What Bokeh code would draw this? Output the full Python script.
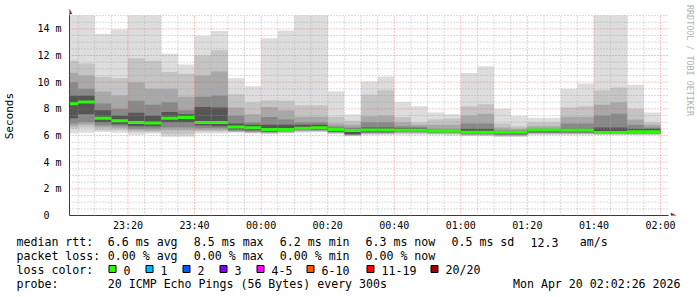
import math
from bokeh.plotting import figure
from bokeh.layouts import column
from bokeh.models import FixedTicker, Label, PolyAnnotation, Range1d, Plot
from bokeh.core.properties import value
from bokeh.embed import file_html
from bokeh.resources import INLINE

# ---------------- data ----------------
view_start = "23:02:26"
view_end = "02:02:26"
bin_end = ["23:05", "23:10", "23:15", "23:20", "23:25", "23:30", "23:35", "23:40", "23:45",
           "23:50", "23:55", "00:00", "00:05", "00:10", "00:15", "00:20", "00:25", "00:30",
           "00:35", "00:40", "00:45", "00:50", "00:55", "01:00", "01:05", "01:10", "01:15",
           "01:20", "01:25", "01:30", "01:35", "01:40", "01:45", "01:50", "01:55", "02:00"]
# smoke bands (ms): outermost (max/min) to innermost
hi1 = [15.9, 15.9, 13.63, 13.95, 15.9, 15.9, 12.13, 11.33, 13.48, 13.83, 10.3, 9.69, 13.3, 13.88, 15.9, 15.9, 9.31, 7.57,
       10.05, 10.43, 8.51, 8.19, 7.72, 7.6, 10.68, 11.2, 8.0, 7.47, 7.34, 7.34, 9.5, 9.9, 15.9, 15.9, 9.8, 7.72]
hi2 = [11.6, 11.4, 10.4, 10.3, 11.8, 11.6, 10.76, 10.63, 12.0, 12.4, 9.1, 8.5, 8.64, 8.6, 8.26, 8.26, 7.4, 7.1,
       9.05, 9.39, 7.39, 7.0, 7.2, 7.27, 8.19, 8.34, 6.9, 6.7, 7.0, 7.0, 8.1, 8.2, 9.39, 9.6, 8.0, 7.0]
hi3 = [10.7, 10.5, 9.3, 9.0, 10.0, 9.5, 9.5, 8.9, 10.5, 10.8, 8.1, 7.6, 8.14, 7.9, 7.4, 7.4, 6.9, 6.8,
       7.45, 7.5, 7.0, 6.8, 6.8, 6.8, 7.5, 7.64, 6.6, 6.5, 6.7, 6.7, 7.4, 7.4, 8.3, 8.5, 7.2, 6.8]
hi4 = [10.0, 9.5, 8.4, 8.0, 8.6, 8.3, 8.5, 7.9, 8.9, 9.0, 7.5, 7.0, 7.39, 7.2, 7.0, 7.0, 6.7, 6.6,
       7.0, 7.0, 6.7, 6.65, 6.5, 6.5, 6.9, 6.9, 6.4, 6.4, 6.5, 6.5, 6.9, 6.9, 7.5, 7.64, 6.8, 6.6]
hi5 = [9.0, 9.0, 7.9, 7.5, 7.7, 7.5, 7.76, 7.6, 8.14, 8.1, 6.9, 6.8, 6.8, 6.8, 6.8, 6.8, 6.55, 6.5,
       6.6, 6.6, 6.55, 6.55, 6.4, 6.4, 6.5, 6.5, 6.3, 6.3, 6.45, 6.45, 6.5, 6.5, 6.6, 6.6, 6.5, 6.5]
median = [8.39, 8.51, 7.30, 7.10, 6.97, 6.93, 7.29, 7.35, 6.98, 6.98, 6.63, 6.58, 6.45, 6.45, 6.55, 6.58, 6.45, 6.37,
          6.41, 6.41, 6.40, 6.40, 6.33, 6.33, 6.24, 6.24, 6.24, 6.24, 6.41, 6.41, 6.39, 6.39, 6.23, 6.23, 6.28, 6.28]
lo5 = [7.3, 7.6, 7.0, 6.85, 6.7, 6.7, 7.0, 7.0, 6.75, 6.7, 6.45, 6.4, 6.3, 6.35, 6.45, 6.45, 6.3, 6.1,
       6.25, 6.25, 6.3, 6.3, 6.25, 6.25, 6.15, 6.15, 6.1, 6.1, 6.25, 6.25, 6.25, 6.25, 6.15, 6.15, 6.2, 6.2]
lo4 = [6.9, 7.0, 6.75, 6.7, 6.5, 6.5, 6.6, 6.6, 6.55, 6.55, 6.35, 6.3, 6.25, 6.3, 6.4, 6.4, 6.25, 6.05,
       6.2, 6.2, 6.25, 6.25, 6.2, 6.2, 6.1, 6.1, 6.05, 6.05, 6.2, 6.2, 6.2, 6.2, 6.12, 6.12, 6.15, 6.15]
lo3 = [6.7, 6.8, 6.6, 6.55, 6.4, 6.35, 6.4, 6.4, 6.4, 6.4, 6.3, 6.25, 6.2, 6.25, 6.35, 6.35, 6.2, 6.02,
       6.15, 6.15, 6.2, 6.2, 6.15, 6.15, 6.05, 6.05, 6.0, 6.0, 6.15, 6.15, 6.15, 6.15, 6.1, 6.1, 6.1, 6.1]
lo2 = [6.5, 6.6, 6.4, 6.4, 6.25, 6.25, 6.1, 6.1, 6.3, 6.3, 6.26, 6.2, 6.15, 6.2, 6.3, 6.3, 6.15, 6.0,
       6.1, 6.1, 6.15, 6.15, 6.1, 6.1, 6.0, 6.0, 5.95, 5.95, 6.1, 6.1, 6.1, 6.1, 6.07, 6.07, 6.07, 6.07]
lo1 = [6.15, 6.2, 6.27, 6.2, 6.05, 6.15, 5.9, 5.9, 6.15, 6.15, 6.2, 6.15, 6.1, 6.15, 6.2, 6.25, 6.1, 5.95,
       6.05, 6.05, 6.05, 6.05, 6.05, 6.0, 5.95, 5.95, 5.89, 5.89, 6.05, 6.05, 6.05, 6.05, 6.05, 6.05, 6.05, 6.05]

x_tick_labels = ["23:20", "23:40", "00:00", "00:20", "00:40", "01:00", "01:20", "01:40", "02:00"]
y_ticks = [0, 2, 4, 6, 8, 10, 12, 14]
y_tick_labels = ["0\u00a0\u00a0", "2 m", "4 m", "6 m", "8 m", "10 m", "12 m", "14 m"]
y_max = 15

rtt_stats = ["6.6", "8.5", "6.2", "6.3", "0.5", "12.3"]   # avg max min now sd am/s
loss_stats = ["0.00", "0.00", "0.00", "0.00"]             # avg max min now
loss_labels = ["0", "1", "2", "3", "4-5", "6-10", "11-19", "20/20"]
loss_colors = ["#26ff00", "#00b8ff", "#0059ff", "#7e00ff", "#ff00ff", "#ff5500", "#ff0000", "#a00000"]
probe_text = "20 ICMP Echo Pings (56 Bytes) every 300s"
stamp_text = "Mon Apr 20 02:02:26 2026"
watermark = "RRDTOOL / TOBI OETIKER"

band_colors = ["#dddddd", "#c4c4c4", "#a8a8a8", "#888888", "#555555"]


def to_min(s):
    parts = [int(v) for v in s.split(":")]
    while len(parts) < 3:
        parts.append(0)
    m = parts[0] * 60 + parts[1] + parts[2] / 60.0 - 23 * 60
    if m < -60:
        m += 1440
    return m


# ---------------- layout constants (canvas px) ----------------
FL, FR_DATA, FR = 67, 668, 697      # frame left, end of time axis, frame right
FT, FB = 3, 215                     # frame top, zero line
W, H_MAIN, H_LEG = 697, 234, 63

x0 = to_min(view_start)
x1 = to_min(view_end)
min_per_px = (x1 - x0) / (FR_DATA - FL)
ms_per_px = y_max / 200.0
x_frame_end = x0 + (FR - FL) * min_per_px
y_frame_end = (FB - FT) * ms_per_px

right = [to_min(t) for t in bin_end]
left = [r - 5 for r in right]

p = figure(width=W, height=H_MAIN, output_backend="svg", toolbar_location=None,
           x_range=Range1d(x0, x_frame_end), y_range=Range1d(0, y_frame_end),
           min_border_left=FL, min_border_right=0, min_border_top=FT, min_border_bottom=H_MAIN - FB,
           background_fill_color="white", border_fill_color="white")
p.outline_line_color = None

his = [hi1, hi2, hi3, hi4, hi5]
los = [lo1, lo2, lo3, lo4, lo5]
for hi, lo, col in zip(his, los, band_colors):
    p.quad(left=left, right=right, top=[min(v, y_max) for v in hi], bottom=lo,
           fill_color=col, line_color=None)

p.segment(x0=left, x1=right, y0=median, y1=median, line_color=loss_colors[0], line_width=3)

# ---------------- axes ----------------
xt = [to_min(t) for t in x_tick_labels]
minor_x = [to_min(t) for t in bin_end if t not in x_tick_labels]
p.xaxis.ticker = FixedTicker(ticks=xt, minor_ticks=minor_x)
p.xaxis.major_label_overrides = {x: l for x, l in zip(xt, x_tick_labels)}
minor_y = [v / 2 for v in range(0, 31) if (v / 2) not in y_ticks]
p.yaxis.ticker = FixedTicker(ticks=y_ticks, minor_ticks=minor_y)
p.yaxis.major_label_overrides = {y: l for y, l in zip(y_ticks, y_tick_labels)}
p.xaxis.bounds = (x0, x1)
p.yaxis.bounds = (0, y_max + 0.1)

for ax in (p.xaxis[0], p.yaxis[0]):
    ax.axis_line_color = "#3a3a3a"
    ax.axis_line_width = 1
    ax.major_tick_in = 0
    ax.major_tick_out = 0
    ax.minor_tick_in = 0
    ax.minor_tick_out = 0
    ax.major_label_text_font = "DejaVu Sans Mono"
    ax.major_label_text_font_size = "10px"
    ax.major_label_text_color = "#000000"
p.xaxis.major_label_standoff = 4
p.yaxis.major_label_standoff = 8
p.yaxis.axis_label = "Seconds\u00a0\u00a0"
p.yaxis.axis_label_text_font = "DejaVu Sans Mono"
p.yaxis.axis_label_text_font_size = "11px"
p.yaxis.axis_label_text_font_style = "normal"
p.yaxis.axis_label_text_color = "#000000"
p.yaxis.axis_label_standoff = 18

# grid: dotted, drawn over the smoke, limited to the data area
MAJ_COL, MAJ_ALPHA = "#e85050", 0.65
MIN_COL, MIN_ALPHA = "#9a9a9a", 0.7
DASH = "1 2"
p.xgrid.visible = False
p.ygrid.visible = False
p.segment(x0=minor_x, x1=minor_x, y0=0, y1=y_max, line_color=MIN_COL, line_alpha=MIN_ALPHA,
          line_dash=DASH, level="overlay")
p.segment(x0=x0, x1=x1, y0=minor_y, y1=minor_y, line_color=MIN_COL, line_alpha=MIN_ALPHA,
          line_dash=DASH, level="overlay")
p.segment(x0=xt, x1=xt, y0=0, y1=y_max, line_color=MAJ_COL, line_alpha=MAJ_ALPHA,
          line_dash=DASH, level="overlay")
p.segment(x0=x0, x1=x1, y0=y_ticks[1:], y1=y_ticks[1:], line_color=MAJ_COL, line_alpha=MAJ_ALPHA,
          line_dash=DASH, level="overlay")


def sx(cx):
    return cx - FL


def sy(cy):
    return FB - cy


arrow_col = "#8b1010"
p.add_layout(PolyAnnotation(xs=[sx(64.5), sx(69.5), sx(67)], ys=[sy(13.5), sy(13.5), sy(8.5)],
                            xs_units="screen", ys_units="screen", fill_color=arrow_col, fill_alpha=1,
                            line_color=arrow_col, level="overlay"))
p.add_layout(PolyAnnotation(xs=[sx(668.5), sx(668.5), sx(673.5)], ys=[sy(212.5), sy(217.5), sy(215)],
                            xs_units="screen", ys_units="screen", fill_color=arrow_col, fill_alpha=1,
                            line_color=arrow_col, level="overlay"))
p.add_layout(Label(x=sx(687), y=sy(60), x_units="screen", y_units="screen", text=watermark,
                   text_font="DejaVu Sans Mono", text_font_size="8.4px", text_color="#b0b0b0",
                   text_align="center", text_baseline="middle", angle=-math.pi / 2))

# ---------------- legend block (second figure, coordinates = canvas px) ----------------
q = figure(width=W, height=H_LEG, output_backend="svg", toolbar_location=None,
           x_range=Range1d(0, W), y_range=Range1d(H_MAIN + H_LEG, H_MAIN),
           x_axis_type=None, y_axis_type=None,
           min_border_left=0, min_border_right=0, min_border_top=0, min_border_bottom=0,
           background_fill_color="white", border_fill_color="white")
q.outline_line_color = None
q.xgrid.visible = False
q.ygrid.visible = False

if "frame_align" in Plot.properties():
    p.frame_align = False
    q.frame_align = False

FONT = "DejaVu Sans Mono"
FS = "11.6px"
r1, r2, r3, r4 = 241.5, 255.5, 269.5, 283.5
chunk_x = [107.3, 193.3, 279.3, 365.0, 451.0, 530.0, 579.3]
rtt_suffix = [" ms avg", " ms max", " ms min", " ms now", " ms sd", ""]
loss_suffix = [" % avg", " % max", " % min", " % now"]
box_x = [108.5, 145.5, 182.5, 219.5, 256.5, 306.5, 366.5, 430.5]

tx, ty, tt = [], [], []
tx.append(16); ty.append(r1); tt.append("median rtt:")
for x, v, suf in zip(chunk_x, rtt_stats, rtt_suffix):
    tx.append(x); ty.append(r1); tt.append(v + suf)
tx.append(chunk_x[6]); ty.append(r1); tt.append("am/s")
tx.append(16); ty.append(r2); tt.append("packet loss:")
for x, v, suf in zip(chunk_x, loss_stats, loss_suffix):
    tx.append(x); ty.append(r2); tt.append(v + suf)
tx.append(16); ty.append(r3); tt.append("loss color:")
for bx, lab in zip(box_x, loss_labels):
    tx.append(bx + 14.5); ty.append(r3); tt.append(lab)
tx.append(16); ty.append(r4); tt.append("probe:")
tx.append(107.3); ty.append(r4); tt.append(probe_text)

q.text(x=tx, y=ty, text=tt, text_font=value(FONT), text_font_size=value(FS),
       text_baseline="middle", text_align="left", text_color="#000000")
q.text(x=[680], y=[r4], text=[stamp_text], text_font=value(FONT), text_font_size=value(FS),
       text_baseline="middle", text_align="right", text_color="#000000")
q.quad(left=box_x, right=[b + 7 for b in box_x], top=[r3 - 4.5] * len(box_x), bottom=[r3 + 2.5] * len(box_x),
       fill_color=loss_colors, line_color="#000000", line_width=1)

layout = column(p, q, spacing=0)
open("out.html", "w").write(file_html(layout, INLINE))
